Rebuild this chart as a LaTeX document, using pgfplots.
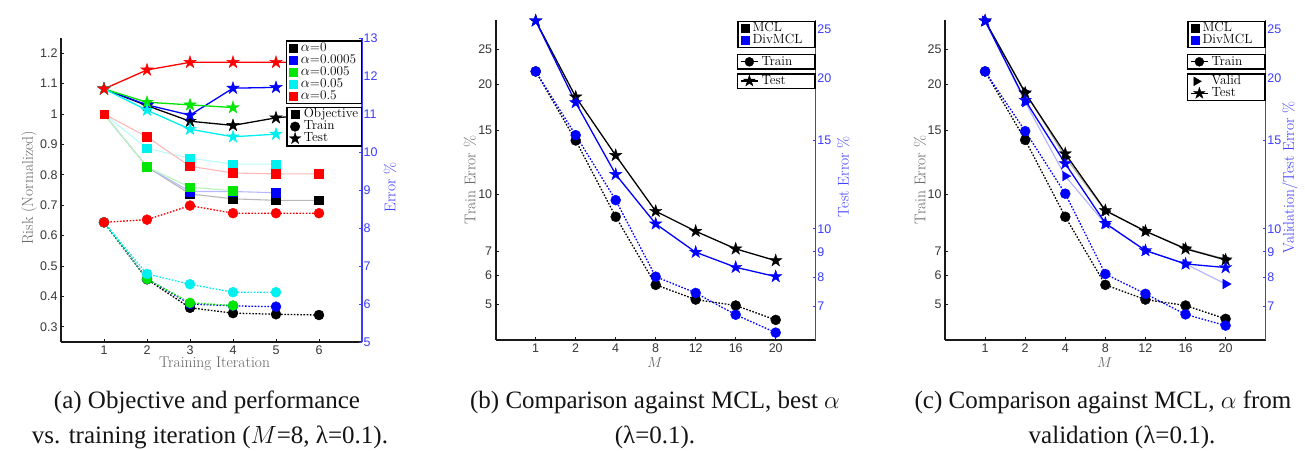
\documentclass[border=0pt]{standalone}
\usepackage{fontspec}
\usepackage{pgfplots}
\pgfplotsset{compat=1.18}

\newfontfamily\tickfamily{Liberation Sans}
\newfontfamily\capfamily{Liberation Serif}
\newcommand\tickfont{\tickfamily\fontsize{12.5}{14}\selectfont}
\newcommand\legfont{\fontsize{13.3}{15}\selectfont}
\newcommand\labfont{\fontsize{15.5}{18}\selectfont}
\newcommand\capfont{\capfamily\fontsize{25}{29}\selectfont}

\definecolor{axisdark}{RGB}{25,25,25}
\definecolor{tickgray}{RGB}{55,55,55}
\definecolor{labgray}{RGB}{100,100,100}
\definecolor{axblue}{RGB}{60,60,255}
\definecolor{mblue}{RGB}{0,0,255}
\definecolor{mgreen}{RGB}{0,230,0}
\definecolor{mcyan}{RGB}{0,240,240}
\definecolor{mred}{RGB}{255,0,0}
\definecolor{capblack}{RGB}{20,20,20}

% filled five-pointed star marker
\pgfdeclareplotmark{pentagram}{%
  \pgfpathmoveto{\pgfqpointpolar{90}{1.2\pgfplotmarksize}}%
  \pgfpathlineto{\pgfqpointpolar{126}{0.46\pgfplotmarksize}}%
  \pgfpathlineto{\pgfqpointpolar{162}{1.2\pgfplotmarksize}}%
  \pgfpathlineto{\pgfqpointpolar{198}{0.46\pgfplotmarksize}}%
  \pgfpathlineto{\pgfqpointpolar{234}{1.2\pgfplotmarksize}}%
  \pgfpathlineto{\pgfqpointpolar{270}{0.46\pgfplotmarksize}}%
  \pgfpathlineto{\pgfqpointpolar{306}{1.2\pgfplotmarksize}}%
  \pgfpathlineto{\pgfqpointpolar{342}{0.46\pgfplotmarksize}}%
  \pgfpathlineto{\pgfqpointpolar{18}{1.2\pgfplotmarksize}}%
  \pgfpathlineto{\pgfqpointpolar{54}{0.46\pgfplotmarksize}}%
  \pgfpathclose
  \pgfusepathqfillstroke
}

\pgfplotsset{
  panel/.style={scale only axis, anchor=south west, clip=false,
    tick align=inside, major tick length=3pt,
    /pgf/number format/assume math mode=true,
    ticklabel style={font=\tickfont},
    label style={font=\labfont}},
  leftpanel/.style={panel, axis x line*=bottom, axis y line*=left,
    axis line style={draw=axisdark, line width=1.6pt},
    tick style={draw=axisdark, line width=0.8pt},
    ticklabel style={text=tickgray},
    label style={text=labgray}},
  rightpanel/.style={panel, axis x line=none, axis y line*=right,
    axis line style={draw=axblue, line width=1.3pt},
    tick style={draw=axblue, line width=0.8pt},
    yticklabel style={text=axblue, inner xsep=1.5pt},
    label style={text=axblue}},
  legaxis/.style={scale only axis, anchor=south west, hide axis,
    xmin=0, xmax=1, ymin=0, ymax=1, legend cell align=left,
    legend style={draw=black, line width=1.4pt, fill=white, font=\legfont,
      inner xsep=2.5pt, inner ysep=1.2pt, row sep=0pt, column sep=3pt,
      nodes={inner xsep=0pt, inner ysep=0.3pt, text height=9pt, text depth=2.4pt}}},
  obj/.style={draw=#1!28!white, line width=1.1pt, mark=square*, mark size=4.3pt,
    mark options={solid, draw=#1, fill=#1, line width=0.4pt}},
  trn/.style={color=#1, line width=1.3pt, dash pattern=on 1.6pt off 1.6pt,
    mark=*, mark size=5pt, mark options={solid, line width=0.4pt}},
  tst/.style={color=#1, line width=1.3pt, mark=pentagram, mark size=5.4pt,
    mark options={solid, line width=0.4pt}},
  vld/.style={draw=#1!30!white, line width=1.1pt, mark=triangle*, mark size=5.5pt,
    mark options={solid, rotate=-90, draw=#1, fill=#1, line width=0.4pt}},
}

% legend glyphs: a plain square, or a single marker without line
\newcommand\sqimg[1]{\addlegendimage{legend image code/.code={\fill[#1] (0pt,-3.8pt) rectangle (7.6pt,3.8pt);}}}
\newcommand\mkimg[1]{\addlegendimage{legend image code/.code={\draw[line width=0.4pt,#1] plot coordinates {(5.5pt,0pt)};}}}

\begin{document}
\begin{tikzpicture}
\path[use as bounding box] (0pt,0pt) rectangle (1305pt,-450pt);

%================ (a) objective / error vs. training iteration
\begin{axis}[leftpanel, at={(61pt,-342pt)}, width=301pt, height=304pt,
  xmin=0, xmax=7, ymin=0.25, ymax=1.25,
  xtick={1,...,6}, ytick={0.3,0.4,0.5,0.6,0.7,0.8,0.9,1,1.1,1.2},
  xlabel={Training Iteration}, ylabel={Risk (Normalized)},
  xlabel style={at={(axis description cs:0.51,-0.072)}, anchor=center},
  ylabel style={at={(axis description cs:-0.106,0.507)}, anchor=center}]
\addplot[obj=black]  coordinates {(1,1.0)(2,0.826)(3,0.737)(4,0.721)(5,0.716)(6,0.716)};
\addplot[obj=mblue]  coordinates {(1,1.0)(2,0.826)(3,0.745)(4,0.745)(5,0.741)};
\addplot[obj=mgreen] coordinates {(1,1.0)(2,0.826)(3,0.759)(4,0.748)};
\addplot[obj=mcyan]  coordinates {(1,1.0)(2,0.887)(3,0.855)(4,0.835)(5,0.835)};
\addplot[obj=mred]   coordinates {(1,1.0)(2,0.925)(3,0.828)(4,0.806)(5,0.803)(6,0.803)};
\end{axis}

\begin{axis}[rightpanel, at={(61pt,-342pt)}, width=301pt, height=304pt,
  xmin=0, xmax=7, ymin=5, ymax=13, ytick={5,...,13},
  ylabel={Error \%},
  ylabel style={at={(axis description cs:1.093,0.508)}, anchor=center}]
% train error
\addplot[trn=black]  coordinates {(1,8.15)(2,6.65)(3,5.90)(4,5.76)(5,5.73)(6,5.71)};
\addplot[trn=mblue]  coordinates {(1,8.15)(2,6.66)(3,6.00)(4,5.95)(5,5.93)};
\addplot[trn=mgreen] coordinates {(1,8.15)(2,6.66)(3,6.03)(4,5.96)};
\addplot[trn=mcyan]  coordinates {(1,8.15)(2,6.79)(3,6.52)(4,6.31)(5,6.31)};
\addplot[trn=mred]   coordinates {(1,8.15)(2,8.22)(3,8.59)(4,8.39)(5,8.39)(6,8.39)};
% test error
\addplot[tst=black]  coordinates {(1,11.66)(2,11.22)(3,10.81)(4,10.70)(5,10.90)(6,11.00)};
\addplot[tst=mblue]  coordinates {(1,11.66)(2,11.24)(3,10.97)(4,11.68)(5,11.70)};
\addplot[tst=mgreen] coordinates {(1,11.66)(2,11.31)(3,11.24)(4,11.17)};
\addplot[tst=mcyan]  coordinates {(1,11.66)(2,11.10)(3,10.60)(4,10.40)(5,10.47)};
\addplot[tst=mred]   coordinates {(1,11.66)(2,12.16)(3,12.36)(4,12.36)(5,12.36)(6,12.36)};
\end{axis}

\begin{axis}[legaxis, at={(61pt,-342pt)}, width=301pt, height=304pt,
  legend style={at={(axis description cs:1,0.993)}, anchor=north east}]
\sqimg{black}  \addlegendentry{\makebox[58pt][l]{$\alpha$=0}}
\sqimg{mblue}  \addlegendentry{\makebox[58pt][l]{$\alpha$=0.0005}}
\sqimg{mgreen} \addlegendentry{\makebox[58pt][l]{$\alpha$=0.005}}
\sqimg{mcyan}  \addlegendentry{\makebox[58pt][l]{$\alpha$=0.05}}
\sqimg{mred}   \addlegendentry{\makebox[58pt][l]{$\alpha$=0.5}}
\end{axis}
\begin{axis}[legaxis, at={(61pt,-342pt)}, width=301pt, height=304pt,
  legend style={at={(axis description cs:1,0.774)}, anchor=north east}]
\mkimg{black, mark=square*, mark size=4pt}   \addlegendentry{\makebox[55pt][l]{Objective}}
\mkimg{black, mark=*, mark size=4.8pt}       \addlegendentry{\makebox[55pt][l]{Train}}
\mkimg{black, mark=pentagram, mark size=5pt} \addlegendentry{\makebox[55pt][l]{Test}}
\end{axis}

%================ (b) MCL vs DivMCL, best alpha
\begin{axis}[leftpanel, at={(495.7pt,-340pt)}, width=320pt, height=320pt,
  xmin=0, xmax=8, ymode=log, ymin=4, ymax=30,
  xtick={1,...,7}, xticklabels={1,2,4,8,12,16,20},
  ytick={5,6,7,10,15,20,25}, yticklabels={5,6,7,10,15,20,25}, yminorticks=false,
  xlabel={$M$}, ylabel={Train Error \%},
  xlabel style={at={(axis description cs:0.498,-0.07)}, anchor=center},
  ylabel style={at={(axis description cs:-0.080,0.5)}, anchor=center}]
\addplot[trn=black] coordinates {(1,21.7)(2,14.05)(3,8.69)(4,5.66)(5,5.16)(6,4.97)(7,4.54)};
\addplot[trn=mblue] coordinates {(1,21.7)(2,14.53)(3,9.65)(4,5.96)(5,5.38)(6,4.69)(7,4.19)};
\end{axis}

\begin{axis}[rightpanel, at={(495.7pt,-340pt)}, width=320pt, height=320pt,
  xmin=0, xmax=8, ymode=log, ymin=6, ymax=26.1,
  ytick={7,8,9,10,15,20,25}, yticklabels={7,8,9,10,15,20,25}, yminorticks=false,
  ylabel={Test Error \%},
  ylabel style={at={(axis description cs:1.086,0.51)}, anchor=center}]
\addplot[tst=black] coordinates {(1,26.0)(2,18.33)(3,14.01)(4,10.84)(5,9.89)(6,9.12)(7,8.64)};
\addplot[tst=mblue] coordinates {(1,26.0)(2,17.86)(3,12.84)(4,10.23)(5,8.98)(6,8.38)(7,8.03)};
\end{axis}

\begin{axis}[legaxis, at={(495.7pt,-340pt)}, width=320pt, height=320pt,
  legend style={at={(axis description cs:1,0.998)}, anchor=north east}]
\sqimg{black} \addlegendentry{\makebox[60pt][l]{MCL}}
\sqimg{mblue} \addlegendentry{\makebox[60pt][l]{DivMCL}}
\end{axis}
\begin{axis}[legaxis, at={(495.7pt,-340pt)}, width=320pt, height=320pt,
  legend style={at={(axis description cs:1,0.894)}, anchor=north east}]
\addlegendimage{black, line width=1.2pt, mark=*, mark size=4.5pt, mark options={line width=0.4pt}}
\addlegendentry{\makebox[51pt][l]{Train}}
\end{axis}
\begin{axis}[legaxis, at={(495.7pt,-340pt)}, width=320pt, height=320pt,
  legend style={at={(axis description cs:1,0.834)}, anchor=north east}]
\addlegendimage{black, line width=1.2pt, mark=pentagram, mark size=5pt, mark options={line width=0.4pt}}
\addlegendentry{\makebox[51pt][l]{Test}}
\end{axis}

%================ (c) MCL vs DivMCL, alpha chosen on validation
\begin{axis}[leftpanel, at={(945pt,-340pt)}, width=320.7pt, height=320pt,
  xmin=0, xmax=8, ymode=log, ymin=4, ymax=30,
  xtick={1,...,7}, xticklabels={1,2,4,8,12,16,20},
  ytick={5,6,7,10,15,20,25}, yticklabels={5,6,7,10,15,20,25}, yminorticks=false,
  xlabel={$M$}, ylabel={Train Error \%},
  xlabel style={at={(axis description cs:0.498,-0.07)}, anchor=center},
  ylabel style={at={(axis description cs:-0.078,0.5)}, anchor=center}]
\addplot[trn=black] coordinates {(1,21.7)(2,14.1)(3,8.69)(4,5.66)(5,5.16)(6,4.97)(7,4.57)};
\addplot[trn=mblue] coordinates {(1,21.7)(2,14.9)(3,10.05)(4,6.06)(5,5.35)(6,4.70)(7,4.38)};
\end{axis}

\begin{axis}[rightpanel, at={(945pt,-340pt)}, width=320.7pt, height=320pt,
  xmin=0, xmax=8, ymode=log, ymin=6, ymax=26.1,
  ytick={7,8,9,10,15,20,25}, yticklabels={7,8,9,10,15,20,25}, yminorticks=false,
  ylabel={Validation/Test Error \%},
  ylabel style={at={(axis description cs:1.076,0.508)}, anchor=center}]
% validation error
\addplot[vld=black] coordinates {(1,26.0)(2,18.75)(3,13.9)(4,10.85)(5,9.9)(6,9.15)(7,8.7)};
\addplot[vld=mblue] coordinates {(1,26.0)(2,17.9)(3,12.74)(4,10.23)(5,9.05)(6,8.51)(7,7.76)};
% test error
\addplot[tst=black] coordinates {(1,26.0)(2,18.67)(3,14.12)(4,10.88)(5,9.89)(6,9.12)(7,8.67)};
\addplot[tst=mblue] coordinates {(1,26.0)(2,18.05)(3,13.49)(4,10.26)(5,9.05)(6,8.51)(7,8.37)};
\end{axis}

\begin{axis}[legaxis, at={(945pt,-340pt)}, width=320.7pt, height=320pt,
  legend style={at={(axis description cs:1,0.998)}, anchor=north east}]
\sqimg{black} \addlegendentry{\makebox[60pt][l]{MCL}}
\sqimg{mblue} \addlegendentry{\makebox[60pt][l]{DivMCL}}
\end{axis}
\begin{axis}[legaxis, at={(945pt,-340pt)}, width=320.7pt, height=320pt,
  legend style={at={(axis description cs:1,0.894)}, anchor=north east}]
\addlegendimage{black, line width=1.2pt, mark=*, mark size=4.5pt, mark options={line width=0.4pt}}
\addlegendentry{\makebox[51pt][l]{Train}}
\end{axis}
\begin{axis}[legaxis, at={(945pt,-340pt)}, width=320.7pt, height=320pt,
  legend style={at={(axis description cs:1,0.833)}, anchor=north east}]
\mkimg{black, mark=triangle*, mark size=5pt, mark options={rotate=-90}}
\addlegendentry{\makebox[51pt][l]{Valid}}
\addlegendimage{black, line width=1.2pt, mark=pentagram, mark size=5pt, mark options={line width=0.4pt}}
\addlegendentry{\makebox[51pt][l]{Test}}
\end{axis}

%================ sub-captions
\begin{scope}[every node/.style={font=\capfont, text=capblack, anchor=base, inner sep=0pt}]
\node at (207pt,-408pt) {(a) Objective and performance};
\node at (210pt,-443pt) {vs. training iteration ($M$=8, λ=0.1).};
\node at (655pt,-408pt) {(b) Comparison against MCL, best $\alpha$};
\node at (655pt,-443pt) {(λ=0.1).};
\node at (1103pt,-408pt) {(c) Comparison against MCL, $\alpha$ from};
\node at (1122pt,-443pt) {validation (λ=0.1).};
\end{scope}
\end{tikzpicture}
\end{document}
